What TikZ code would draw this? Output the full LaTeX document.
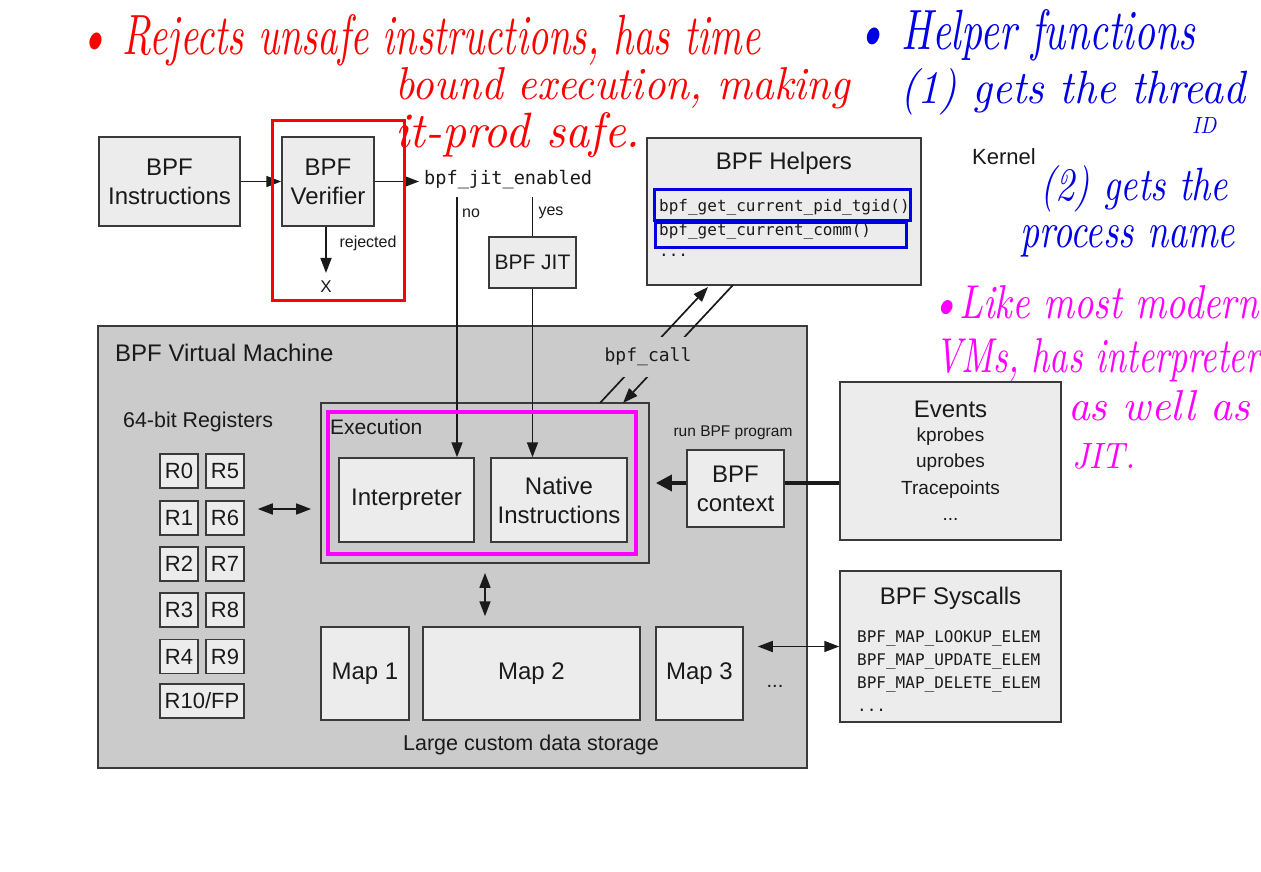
\documentclass[tikz,border=0pt]{standalone}
\usepackage{graphicx}
\usepackage{fontspec}
\setsansfont{Liberation Sans}
\setmonofont{DejaVu Sans Mono}
\usetikzlibrary{arrows.meta}
\definecolor{boxfill}{HTML}{ECECEC}
\definecolor{vmfill}{HTML}{CBCBCB}
\definecolor{edge}{HTML}{3A3A3A}
\definecolor{ink}{HTML}{1A1A1A}
\definecolor{hred}{HTML}{FF0000}
\definecolor{hblue}{HTML}{0000E6}
\definecolor{hmag}{HTML}{FF00FF}
\newcommand{\hw}[3]{\resizebox{#1pt}{#2pt}{\rmfamily\itshape #3}}
\begin{document}
\begin{tikzpicture}[x=1pt,y=-1pt,
  box/.style={draw=edge, fill=boxfill, line width=1.5pt, inner sep=0pt, text=ink,
    font=\sffamily\fontsize{24}{29}\selectfont, align=center},
  reg/.style={box, minimum width=38pt, minimum height=34pt, font=\sffamily\fontsize{22}{26}\selectfont},
  lbl/.style={inner sep=0pt, text=ink, font=\sffamily\fontsize{16}{20}\selectfont},
  mono/.style={inner sep=0pt, text=ink, font=\ttfamily\fontsize{16}{20}\selectfont},
  arr/.style={draw=ink, line width=1.7pt, -{Triangle[length=15pt,width=11pt]}},
  darr/.style={draw=ink, line width=1.7pt, {Triangle[length=15pt,width=11pt]}-{Triangle[length=15pt,width=11pt]}},
  thk/.style={draw=ink, line width=3.5pt},
  hand/.style={anchor=base west, inner sep=0pt}
]
\fill[white] (0,0) rectangle (1261,872);
\useasboundingbox (0,0) rectangle (1261,872);

% ---- top row
\node[box, minimum width=141pt, minimum height=89pt] (instr) at (169.5,181.5) {BPF\\Instructions};
\node[box, minimum width=92pt, minimum height=89pt] (verif) at (328,181.5) {BPF\\Verifier};
\node[lbl, font=\sffamily\fontsize{17}{20}\selectfont] (rejx) at (326,287) {X};
\node[lbl] (rejl) at (368,243) {rejected};
\node[mono, font=\ttfamily\fontsize{18.6}{22}\selectfont, anchor=west] (jit) at (424,180) {bpf\_jit\_enabled};
\node[lbl] (nol) at (471,213) {no};
\node[lbl] (yesl) at (551,213) {yes};
\node[box, minimum width=87pt, minimum height=51pt, font=\sffamily\fontsize{21}{25}\selectfont] (jitbox) at (532.5,262.5) {BPF JIT};

\draw[arr] (instr.east) -- (verif.west);
\draw[arr] (verif.east) -- ([xshift=-5pt]verif.east -| jit.west);
\draw[arr] (verif.south -| rejx) -- ([yshift=8pt]rejx.north);

% helpers
\node[box, minimum width=274pt, minimum height=147pt] (helpers) at (784,211.5) {};
\node[lbl, font=\sffamily\fontsize{24}{28}\selectfont] (helpt) at (784,163) {BPF Helpers};
\node[mono, anchor=west] (h1) at (659,207) {bpf\_get\_current\_pid\_tgid()};
\node[mono, anchor=west] (h2) at (659,231) {bpf\_get\_current\_comm()};
\node[mono, anchor=west] (h3) at (659,255) {...};
\node[lbl, font=\sffamily\fontsize{22}{26}\selectfont] (kernel) at (1004,157) {Kernel};

% ---- VM
\node[box, fill=vmfill, minimum width=709pt, minimum height=442pt] (vm) at (452.5,547) {};
\node[lbl, font=\sffamily\fontsize{24}{28}\selectfont, anchor=west] (vmt) at (115,353) {BPF Virtual Machine};
\node[lbl, font=\sffamily\fontsize{21.4}{26}\selectfont, anchor=west] (regt) at (123,422) {64-bit Registers};

\node[reg] (R0) at (179,471) {R0};
\node[reg] (R5) at (225,471) {R5};
\node[reg] (R1) at (179,518) {R1};
\node[reg] (R6) at (225,518) {R6};
\node[reg] (R2) at (179,564) {R2};
\node[reg] (R7) at (225,564) {R7};
\node[reg] (R3) at (179,610) {R3};
\node[reg] (R8) at (225,610) {R8};
\node[reg] (R4) at (179,656.5) {R4};
\node[reg] (R9) at (225,656.5) {R9};
\node[reg, minimum width=84pt] (R10) at (202,701) {R10/FP};

\node[box, fill=vmfill, line width=1.8pt, minimum width=328pt, minimum height=160pt] (exec) at (485,483) {};
\node[lbl, font=\sffamily\fontsize{21}{25}\selectfont, anchor=west] (exect) at (330,427) {Execution};
\node[box, minimum width=135pt, minimum height=84pt] (interp) at (406.5,500) {Interpreter};
\node[box, minimum width=136pt, minimum height=84pt] (native) at (559,500) {Native\\Instructions};

\node[lbl, font=\sffamily\fontsize{15.5}{19}\selectfont] (runl) at (733,433) {run BPF program};
\node[box, minimum width=97pt, minimum height=77pt] (ctx) at (735.5,488.5) {BPF\\context};

\node[box, minimum width=88pt, minimum height=93pt] (map1) at (365,673.5) {Map 1};
\node[box, minimum width=217pt, minimum height=93pt] (map2) at (531.5,673.5) {Map 2};
\node[box, minimum width=87pt, minimum height=93pt] (map3) at (699.5,673.5) {Map 3};
\node[lbl, font=\sffamily\fontsize{20}{24}\selectfont] (mdots) at (775,686) {...};
\node[lbl, font=\sffamily\fontsize{21.5}{26}\selectfont] (storl) at (531,745) {Large custom data storage};

% ---- right boxes
\node[box, minimum width=221pt, minimum height=158pt, font=\sffamily\fontsize{19}{26.5}\selectfont] (events) at (950.5,461)
  {{\fontsize{24}{28}\selectfont Events}\\[-3pt]kprobes\\uprobes\\Tracepoints\\...};
\node[box, minimum width=221pt, minimum height=151pt] (sys) at (950.5,646.5) {};
\node[lbl, font=\sffamily\fontsize{24}{28}\selectfont] (syst) at (950.5,598) {BPF Syscalls};
\node[mono, anchor=west] (s1) at (857,638) {BPF\_MAP\_LOOKUP\_ELEM};
\node[mono, anchor=west] (s2) at (857,662) {BPF\_MAP\_UPDATE\_ELEM};
\node[mono, anchor=west] (s3) at (857,685) {BPF\_MAP\_DELETE\_ELEM};
\node[mono, anchor=west] (s4) at (857,710) {...};

% ---- connectors
\coordinate (nostart) at (457,197);
\coordinate (yesstart) at (532.5,197);
\draw[arr] (nostart) -- (nostart |- interp.north);
\draw[draw=ink, line width=1.7pt] (yesstart) -- (jitbox.north);
\draw[arr] (jitbox.south) -- (jitbox.south |- native.north);

\coordinate (ca1) at (600,403);
\coordinate (ca2) at (708,287);
\coordinate (cb1) at (733,285);
\coordinate (cb2) at (623,403);
\draw[arr] (ca1) -- (ca2);
\draw[arr] (cb1) -- (cb2);
\node[mono, font=\ttfamily\fontsize{18}{22}\selectfont, fill=vmfill, minimum width=104pt, minimum height=40pt] (callt) at (648,357) {bpf\_call};

\draw[thk, -{Triangle[length=16pt,width=16pt]}] (ctx.west |- exec.east) -- ([xshift=6pt]exec.east);
\draw[thk] (events.west |- exec.east) -- (ctx.east |- exec.east);
\draw[darr] ([xshift=13pt,yshift=9pt]R6.east) -- ([xshift=-9pt,yshift=9pt]exec.west |- R6.east);
\draw[darr] ([yshift=-9pt]exec.south) -- ([yshift=10pt]exec.south |- map2.north);
\draw[darr] ([xshift=14pt]map3.east |- sys.west) -- (sys.west);

% ---- annotation frames
\draw[hred, line width=3pt] (272,121) rectangle (404,300);
\draw[hblue, line width=3pt] (654,189) rectangle (910,220);
\draw[hblue, line width=3pt] (655,222) rectangle (906,247);
\draw[hmag, line width=4pt] (328,412) rectangle (636,554);

% ---- handwritten notes
\node[hand, text=hred] (r1) at (78,55) {\hw{682}{40}{\textbullet\ Rejects unsafe instructions, has time}};
\node[hand, text=hred] (r2) at (395,100) {\hw{455}{32}{bound execution, making}};
\node[hand, text=hred] (r3) at (395,148) {\hw{245}{35}{it-prod safe.}};

\node[hand, text=hblue] (b1) at (855,50) {\hw{340}{40}{\textbullet\ Helper functions}};
\node[hand, text=hblue] (b2) at (900,103) {\hw{345}{35}{(1) gets the thread}};
\node[hand, text=hblue] (b3) at (1192,134) {\hw{24}{16}{ID}};
\node[hand, text=hblue] (b4) at (1040,200) {\hw{188}{35}{(2) gets the}};
\node[hand, text=hblue] (b5) at (1020,247) {\hw{215}{22}{process name}};

\node[hand, text=hmag] (m1) at (930,318) {\hw{328}{33}{\textbullet Like most modern}};
\node[hand, text=hmag] (m2) at (935,372) {\hw{325}{34}{VMs, has interpreter}};
\node[hand, text=hmag] (m3) at (1068,420) {\hw{182}{30}{as well as}};
\node[hand, text=hmag] (m4) at (1072,468) {\hw{63}{25}{JIT.}};
\end{tikzpicture}
\end{document}
